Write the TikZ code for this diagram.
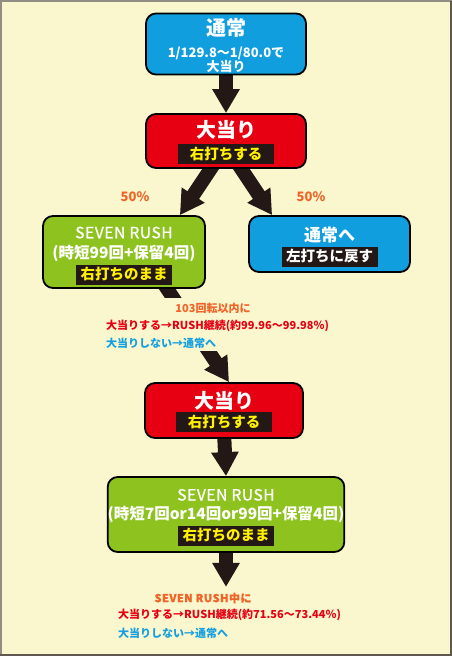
\documentclass[tikz,border=0pt]{standalone}
\usepackage{fontspec}
\setmainfont{Noto Sans CJK JP}
\newfontfamily\rushfont{Noto Sans CJK JP}[LetterSpace=4,FakeBold=1]
\usetikzlibrary{arrows.meta,backgrounds}

\definecolor{bg}{RGB}{250,246,205}
\definecolor{framegray}{RGB}{145,140,132}
\definecolor{framedark}{RGB}{95,88,80}
\definecolor{normalblue}{RGB}{16,158,222}
\definecolor{hitred}{RGB}{230,0,18}
\definecolor{rushgreen}{RGB}{141,194,31}
\definecolor{lblbg}{RGB}{35,24,21}
\definecolor{lblfg}{RGB}{255,241,0}
\definecolor{pctorange}{RGB}{240,100,40}
\definecolor{txtblue}{RGB}{20,160,225}

\newcommand{\lbl}[2][lblfg]{{\setlength{\fboxsep}{0pt}\colorbox{lblbg}{\rule[-5pt]{0pt}{20pt}\makebox[96pt]{\fontsize{14.5}{16}\selectfont\bfseries\textcolor{#1}{#2}}}}}
\newcommand{\headfont}{\fontsize{20}{22}\selectfont\bfseries}
\newcommand{\midfont}{\fontsize{15.5}{18}\selectfont\bfseries}
\newcommand{\smallfont}{\fontsize{13}{13}\selectfont\bfseries}
\newcommand{\sevenrush}[1]{{\rushfont\fontsize{15.5}{16}\selectfont\rule{0pt}{#1}SEVEN RUSH}}

\tikzset{
  box/.style={draw=black, line width=1.8pt, rounded corners=10pt, align=center, text=white, inner sep=0pt,
    font=\fontsize{10}{20}\selectfont},
  flow/.style={draw=lblbg, line width=14pt, -{Triangle[width=26pt,length=24pt]}},
  note/.style={font=\fontsize{11}{13}\selectfont\bfseries, inner sep=3pt, fill=bg},
  pct/.style={font=\fontsize{13}{15}\selectfont\bfseries, text=pctorange},
}

\begin{document}
\begin{tikzpicture}[x=1pt,y=-1pt]
    \useasboundingbox (0,0) rectangle (452,656);
    % boxes
    \node[box, fill=normalblue, minimum width=160pt, minimum height=61pt, font=\fontsize{10}{13}\selectfont] (normal) at (226,44)
        {{\headfont\rule{0pt}{20pt}通常}\\[9pt] {\smallfont 1/129.8～1/80.0で}\\ {\smallfont 大当り}};
    \node[box, fill=hitred, minimum width=160pt, minimum height=54pt] (hitA) at (226,141)
        {{\headfont\rule{0pt}{20pt}大当り}\\[1.5pt] \lbl{右打ちする}};
    \node[box, fill=rushgreen, minimum width=162pt, minimum height=72pt] (rushA) at (124,252)
        {\sevenrush{19pt}\\ {\midfont (時短99回+保留4回)}\\[1.5pt] \lbl{右打ちのまま}};
    \node[box, fill=normalblue, minimum width=161pt, minimum height=56pt] (back) at (329.5,244)
        {{\fontsize{17}{19}\selectfont\bfseries\rule{0pt}{20pt}通常へ}\\[0.5pt] \lbl[white]{左打ちに戻す}};
    \node[box, fill=hitred, minimum width=158pt, minimum height=55pt] (hitB) at (224,410.5)
        {{\headfont\rule{0pt}{20pt}大当り}\\[-1.5pt] \lbl{右打ちする}};
    \node[box, fill=rushgreen, minimum width=236pt, minimum height=75pt] (rushB) at (226,514.5)
        {\sevenrush{17pt}\\[-1pt] {\midfont (時短7回or14回or99回+保留4回)}\\[1pt] \lbl{右打ちのまま}};

    % odds
    \node[pct] (pctA) at (135,197) {50\%};
    \node[pct] (pctB) at (311,197) {50\%};

    % notes
    \node[note, text=pctorange, inner xsep=14pt, inner ysep=5pt] (stayA) at (213,308) {103回転以内に};
    \node[note, text=hitred, anchor=west] (winA) at (103,326) {大当りする→RUSH継続(約99.96～99.98％)};
    \node[note, text=txtblue, anchor=west] (loseA) at (103,343) {大当りしない→通常へ};
    \node[note, text=pctorange, font=\rushfont\fontsize{11}{13}\selectfont\bfseries] (stayB) at (203,598) {SEVEN RUSH中に};
    \node[note, text=hitred, anchor=west] (winB) at (115,615) {大当りする→RUSH継続(約71.56～73.44％)};
    \node[note, text=txtblue, anchor=west] (loseB) at (115,633) {大当りしない→通常へ};

    \begin{scope}[on background layer]
        \fill[bg] (0,0) rectangle (452,656);
        \draw[flow] ([yshift=8pt]normal.south) -- (hitA.north);
        \draw[flow] ([xshift=-10pt,yshift=8pt]hitA.south) -- ([xshift=-26pt]rushA.north east);
        \draw[flow] ([xshift=10pt,yshift=8pt]hitA.south) -- ([xshift=24pt]back.north west);
        \draw[flow] ([xshift=-44pt,yshift=8pt]rushA.south east) -- ([xshift=5pt]hitB.north);
        \draw[flow] ([yshift=8pt]hitB.south) -- (rushB.north);
        \draw[flow] ([yshift=8pt]rushB.south) -- ([yshift=-34pt]rushB.south);
    \end{scope}

    % frame
    \draw[framegray, line width=2pt] (1,656) -- (1,1) -- (452,1);
    \draw[framedark, line width=2pt] (451,1) -- (451,655) -- (0,655);
\end{tikzpicture}
\end{document}
